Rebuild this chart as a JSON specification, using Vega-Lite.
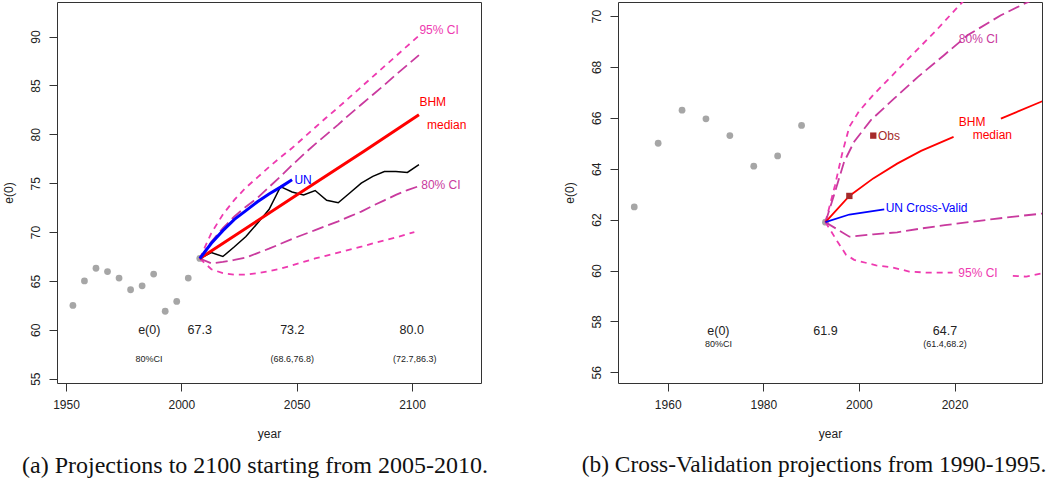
{
  "$schema": "https://vega.github.io/schema/vega-lite/v6.json",
  "padding": {"left": 1, "top": 1, "right": 0, "bottom": 0},
  "background": "white",
  "config": {
    "view": {"stroke": "#333", "strokeWidth": 1},
    "axis": {"domain": false, "grid": false, "tickColor": "#333", "tickSize": 8, "labelFont": "Liberation Sans", "labelFontSize": 12, "labelColor": "#222", "titleFont": "Liberation Sans", "titleFontSize": 12, "titleFontWeight": "normal", "titleColor": "#222"},
    "axisY": {"labelAngle": -90, "labelAlign": "center", "labelBaseline": "bottom", "labelPadding": 7, "titlePadding": 14},
    "axisX": {"labelPadding": 8, "titlePadding": 18},
    "text": {"font": "Liberation Sans"}
  },
  "datasets": {
    "dots": [
      {"year": 1953, "e0": 62.5}, {"year": 1958, "e0": 65.0}, {"year": 1963, "e0": 66.3}, {"year": 1968, "e0": 65.96},
      {"year": 1973, "e0": 65.3}, {"year": 1978, "e0": 64.1}, {"year": 1983, "e0": 64.5}, {"year": 1988, "e0": 65.7},
      {"year": 1993, "e0": 61.9}, {"year": 1998, "e0": 62.9}, {"year": 2003, "e0": 65.3}, {"year": 2008, "e0": 67.3}
    ],
    "linesA": [
      {"series": "up95", "year": 2008, "e0": 67.3}, {"series": "up95", "year": 2013, "e0": 69.9}, {"series": "up95", "year": 2018, "e0": 71.8}, {"series": "up95", "year": 2023, "e0": 73.3}, {"series": "up95", "year": 2028, "e0": 74.55}, {"series": "up95", "year": 2033, "e0": 75.6}, {"series": "up95", "year": 2038, "e0": 76.65}, {"series": "up95", "year": 2043, "e0": 77.65}, {"series": "up95", "year": 2048, "e0": 78.6}, {"series": "up95", "year": 2053, "e0": 79.65}, {"series": "up95", "year": 2058, "e0": 80.7}, {"series": "up95", "year": 2063, "e0": 81.75}, {"series": "up95", "year": 2068, "e0": 82.75}, {"series": "up95", "year": 2073, "e0": 83.8}, {"series": "up95", "year": 2078, "e0": 84.85}, {"series": "up95", "year": 2083, "e0": 85.9}, {"series": "up95", "year": 2088, "e0": 86.95}, {"series": "up95", "year": 2093, "e0": 88.0}, {"series": "up95", "year": 2098, "e0": 89.05}, {"series": "up95", "year": 2103, "e0": 90.1},
      {"series": "up80", "year": 2008, "e0": 67.3}, {"series": "up80", "year": 2013, "e0": 69.0}, {"series": "up80", "year": 2018, "e0": 70.4}, {"series": "up80", "year": 2023, "e0": 71.6}, {"series": "up80", "year": 2028, "e0": 72.6}, {"series": "up80", "year": 2033, "e0": 73.5}, {"series": "up80", "year": 2038, "e0": 74.6}, {"series": "up80", "year": 2043, "e0": 75.7}, {"series": "up80", "year": 2048, "e0": 76.85}, {"series": "up80", "year": 2053, "e0": 77.95}, {"series": "up80", "year": 2058, "e0": 79.0}, {"series": "up80", "year": 2063, "e0": 80.0}, {"series": "up80", "year": 2068, "e0": 81.0}, {"series": "up80", "year": 2073, "e0": 82.05}, {"series": "up80", "year": 2078, "e0": 83.05}, {"series": "up80", "year": 2083, "e0": 84.05}, {"series": "up80", "year": 2088, "e0": 85.05}, {"series": "up80", "year": 2093, "e0": 86.1}, {"series": "up80", "year": 2098, "e0": 87.1}, {"series": "up80", "year": 2103, "e0": 88.1},
      {"series": "lo80", "year": 2008, "e0": 67.3}, {"series": "lo80", "year": 2013, "e0": 66.8}, {"series": "lo80", "year": 2018, "e0": 66.95}, {"series": "lo80", "year": 2023, "e0": 67.15}, {"series": "lo80", "year": 2028, "e0": 67.4}, {"series": "lo80", "year": 2033, "e0": 67.85}, {"series": "lo80", "year": 2038, "e0": 68.3}, {"series": "lo80", "year": 2043, "e0": 68.8}, {"series": "lo80", "year": 2048, "e0": 69.3}, {"series": "lo80", "year": 2053, "e0": 69.75}, {"series": "lo80", "year": 2058, "e0": 70.2}, {"series": "lo80", "year": 2063, "e0": 70.65}, {"series": "lo80", "year": 2068, "e0": 71.1}, {"series": "lo80", "year": 2073, "e0": 71.6}, {"series": "lo80", "year": 2078, "e0": 72.1}, {"series": "lo80", "year": 2083, "e0": 72.7}, {"series": "lo80", "year": 2088, "e0": 73.25}, {"series": "lo80", "year": 2093, "e0": 73.8}, {"series": "lo80", "year": 2098, "e0": 74.3}, {"series": "lo80", "year": 2103, "e0": 74.7},
      {"series": "lo95", "year": 2008, "e0": 67.3}, {"series": "lo95", "year": 2013, "e0": 66.2}, {"series": "lo95", "year": 2018, "e0": 65.8}, {"series": "lo95", "year": 2023, "e0": 65.65}, {"series": "lo95", "year": 2028, "e0": 65.65}, {"series": "lo95", "year": 2033, "e0": 65.8}, {"series": "lo95", "year": 2038, "e0": 66.0}, {"series": "lo95", "year": 2043, "e0": 66.25}, {"series": "lo95", "year": 2048, "e0": 66.6}, {"series": "lo95", "year": 2053, "e0": 66.95}, {"series": "lo95", "year": 2058, "e0": 67.3}, {"series": "lo95", "year": 2063, "e0": 67.6}, {"series": "lo95", "year": 2068, "e0": 67.9}, {"series": "lo95", "year": 2073, "e0": 68.2}, {"series": "lo95", "year": 2078, "e0": 68.5}, {"series": "lo95", "year": 2083, "e0": 68.85}, {"series": "lo95", "year": 2088, "e0": 69.15}, {"series": "lo95", "year": 2093, "e0": 69.45}, {"series": "lo95", "year": 2098, "e0": 69.8}, {"series": "lo95", "year": 2101, "e0": 70.0},
      {"series": "traj", "year": 2008, "e0": 67.3}, {"series": "traj", "year": 2013, "e0": 67.9}, {"series": "traj", "year": 2018, "e0": 67.5}, {"series": "traj", "year": 2023, "e0": 68.5}, {"series": "traj", "year": 2028, "e0": 69.55}, {"series": "traj", "year": 2033, "e0": 70.9}, {"series": "traj", "year": 2038, "e0": 72.3}, {"series": "traj", "year": 2043, "e0": 74.65}, {"series": "traj", "year": 2048, "e0": 74.1}, {"series": "traj", "year": 2053, "e0": 73.8}, {"series": "traj", "year": 2058, "e0": 74.25}, {"series": "traj", "year": 2063, "e0": 73.25}, {"series": "traj", "year": 2068, "e0": 73.0}, {"series": "traj", "year": 2073, "e0": 74.0}, {"series": "traj", "year": 2078, "e0": 75.0}, {"series": "traj", "year": 2083, "e0": 75.7}, {"series": "traj", "year": 2088, "e0": 76.2}, {"series": "traj", "year": 2093, "e0": 76.2}, {"series": "traj", "year": 2098, "e0": 76.1}, {"series": "traj", "year": 2103, "e0": 76.9},
      {"series": "bhm", "year": 2008, "e0": 67.3}, {"series": "bhm", "year": 2052, "e0": 74.1}, {"series": "bhm", "year": 2079, "e0": 78.25}, {"series": "bhm", "year": 2103, "e0": 82.0},
      {"series": "un", "year": 2008, "e0": 67.3}, {"series": "un", "year": 2013, "e0": 68.85}, {"series": "un", "year": 2018, "e0": 70.15}, {"series": "un", "year": 2023, "e0": 71.3}, {"series": "un", "year": 2028, "e0": 72.2}, {"series": "un", "year": 2033, "e0": 73.1}, {"series": "un", "year": 2038, "e0": 73.9}, {"series": "un", "year": 2043, "e0": 74.6}, {"series": "un", "year": 2048, "e0": 75.35}
    ],
    "linesB": [
      {"series": "up95", "year": 1993, "e0": 61.9}, {"series": "up95", "year": 1995, "e0": 63.35}, {"series": "up95", "year": 1996.5, "e0": 64.6}, {"series": "up95", "year": 1998, "e0": 65.65}, {"series": "up95", "year": 2000, "e0": 66.25}, {"series": "up95", "year": 2003, "e0": 66.9}, {"series": "up95", "year": 2007, "e0": 67.67}, {"series": "up95", "year": 2011, "e0": 68.45}, {"series": "up95", "year": 2016, "e0": 69.4}, {"series": "up95", "year": 2021, "e0": 70.42}, {"series": "up95", "year": 2026, "e0": 71.4},
      {"series": "up80", "year": 1993, "e0": 61.9}, {"series": "up80", "year": 1994.8, "e0": 62.97}, {"series": "up80", "year": 1996.9, "e0": 64.27}, {"series": "up80", "year": 1999, "e0": 65.06}, {"series": "up80", "year": 2002.5, "e0": 65.91}, {"series": "up80", "year": 2007.4, "e0": 66.76}, {"series": "up80", "year": 2012.3, "e0": 67.6}, {"series": "up80", "year": 2017.8, "e0": 68.46}, {"series": "up80", "year": 2022.7, "e0": 69.24}, {"series": "up80", "year": 2029.7, "e0": 70.03}, {"series": "up80", "year": 2034.6, "e0": 70.48}, {"series": "up80", "year": 2039, "e0": 70.85},
      {"series": "lo80", "year": 1993, "e0": 61.9}, {"series": "lo80", "year": 1998, "e0": 61.33}, {"series": "lo80", "year": 2003, "e0": 61.42}, {"series": "lo80", "year": 2008, "e0": 61.5}, {"series": "lo80", "year": 2013, "e0": 61.65}, {"series": "lo80", "year": 2018, "e0": 61.78}, {"series": "lo80", "year": 2023, "e0": 61.9}, {"series": "lo80", "year": 2028, "e0": 62.02}, {"series": "lo80", "year": 2033, "e0": 62.13}, {"series": "lo80", "year": 2038, "e0": 62.23}, {"series": "lo80", "year": 2040, "e0": 62.27},
      {"series": "lo95a", "year": 1993, "e0": 61.9}, {"series": "lo95a", "year": 1995.5, "e0": 61.14}, {"series": "lo95a", "year": 1997.3, "e0": 60.62}, {"series": "lo95a", "year": 1999, "e0": 60.42}, {"series": "lo95a", "year": 2003.6, "e0": 60.2}, {"series": "lo95a", "year": 2007, "e0": 60.12}, {"series": "lo95a", "year": 2010.5, "e0": 59.96}, {"series": "lo95a", "year": 2014, "e0": 59.92}, {"series": "lo95a", "year": 2019.6, "e0": 59.92},
      {"series": "lo95b", "year": 2032.2, "e0": 59.79}, {"series": "lo95b", "year": 2035, "e0": 59.76}, {"series": "lo95b", "year": 2039, "e0": 59.92},
      {"series": "bhm_a", "year": 1993, "e0": 61.9}, {"series": "bhm_a", "year": 1998, "e0": 62.93}, {"series": "bhm_a", "year": 2003, "e0": 63.62}, {"series": "bhm_a", "year": 2008, "e0": 64.2}, {"series": "bhm_a", "year": 2013, "e0": 64.7}, {"series": "bhm_a", "year": 2019.8, "e0": 65.25},
      {"series": "bhm_b", "year": 2029.7, "e0": 65.97}, {"series": "bhm_b", "year": 2039, "e0": 66.7},
      {"series": "un", "year": 1993, "e0": 61.9}, {"series": "un", "year": 1998, "e0": 62.2}, {"series": "un", "year": 2005.3, "e0": 62.4}
    ],
    "obsB": [{"year": 1998, "e0": 62.93}, {"year": 2003, "e0": 65.3}],
    "labelsA": [
      {"year": 2103.2, "e0": 90.65, "text": "95% CI", "kind": "ci95"},
      {"year": 2103.2, "e0": 83.34, "text": "BHM", "kind": "bhm"},
      {"year": 2106.5, "e0": 80.96, "text": "median", "kind": "bhm"},
      {"year": 2104, "e0": 74.84, "text": "80% CI", "kind": "ci80"},
      {"year": 2049, "e0": 75.35, "text": "UN", "kind": "un"}
    ],
    "labelsB": [
      {"year": 2020.9, "e0": 69.09, "text": "80% CI", "kind": "ci80"},
      {"year": 2020.9, "e0": 65.82, "text": "BHM", "kind": "bhm"},
      {"year": 2023.8, "e0": 65.32, "text": "median", "kind": "bhm"},
      {"year": 2020.8, "e0": 59.9, "text": "95% CI", "kind": "ci95"},
      {"year": 2004.0, "e0": 65.3, "text": "Obs", "kind": "obs"},
      {"year": 2005.6, "e0": 62.44, "text": "UN Cross-Valid", "kind": "un"}
    ],
    "tableA": [
      {"year": 1986.1, "e0": 59.94, "text": "e(0)", "row": "main"},
      {"year": 2008.0, "e0": 59.94, "text": "67.3", "row": "main"},
      {"year": 2048.1, "e0": 59.94, "text": "73.2", "row": "main"},
      {"year": 2099.9, "e0": 59.94, "text": "80.0", "row": "main"},
      {"year": 1986.0, "e0": 56.98, "text": "80%CI", "row": "ci"},
      {"year": 2048.1, "e0": 56.98, "text": "(68.6,76.8)", "row": "ci"},
      {"year": 2101.2, "e0": 56.98, "text": "(72.7,86.3)", "row": "ci"}
    ],
    "tableB": [
      {"year": 1970.6, "e0": 57.64, "text": "e(0)", "row": "main"},
      {"year": 1993.0, "e0": 57.64, "text": "61.9", "row": "main"},
      {"year": 2018.0, "e0": 57.64, "text": "64.7", "row": "main"},
      {"year": 1970.6, "e0": 57.11, "text": "80%CI", "row": "ci"},
      {"year": 2018.0, "e0": 57.11, "text": "(61.4,68.2)", "row": "ci"}
    ]
  },
  "spacing": 137,
  "bounds": "flush",
  "hconcat": [
    {
      "width": 424,
      "height": 381,
      "title": {"text": "(a) Projections to 2100 starting from 2005-2010.", "orient": "bottom", "font": "Liberation Serif", "fontSize": 24, "fontWeight": "normal", "color": "#111", "anchor": "middle", "frame": "group", "dx": -14, "offset": 15},
      "encoding": {
        "x": {"field": "year", "type": "quantitative", "scale": {"domain": [1946.1, 2129.9], "nice": false, "zero": false}, "axis": {"values": [1950, 2000, 2050, 2100], "format": "d", "title": "year"}},
        "y": {"field": "e0", "type": "quantitative", "scale": {"domain": [54.56, 93.54], "nice": false, "zero": false}, "axis": {"values": [55, 60, 65, 70, 75, 80, 85, 90], "format": "d", "title": "e(0)"}}
      },
      "layer": [
        {"data": {"name": "dots"}, "mark": {"type": "circle", "color": "#A6A6A6", "size": 46, "opacity": 1}},
        {"data": {"name": "linesA"}, "transform": [{"filter": {"field": "series", "oneOf": ["up95", "lo95"]}}], "mark": {"type": "line", "color": "#EE3AB0", "strokeWidth": 1.8, "strokeDash": [6, 5]}, "encoding": {"detail": {"field": "series"}}},
        {"data": {"name": "linesA"}, "transform": [{"filter": {"field": "series", "oneOf": ["up80", "lo80"]}}], "mark": {"type": "line", "color": "#C93A9E", "strokeWidth": 1.8, "strokeDash": [12, 5]}, "encoding": {"detail": {"field": "series"}}},
        {"data": {"name": "linesA"}, "transform": [{"filter": {"field": "series", "equal": "traj"}}], "mark": {"type": "line", "color": "#000000", "strokeWidth": 1.5}},
        {"data": {"name": "linesA"}, "transform": [{"filter": {"field": "series", "equal": "bhm"}}], "mark": {"type": "line", "color": "#FF0000", "strokeWidth": 3}},
        {"data": {"name": "linesA"}, "transform": [{"filter": {"field": "series", "equal": "un"}}], "mark": {"type": "line", "color": "#0000FF", "strokeWidth": 3}},
        {"data": {"name": "labelsA"}, "mark": {"type": "text", "align": "left", "baseline": "middle", "fontSize": 12}, "encoding": {"text": {"field": "text"}, "color": {"field": "kind", "type": "nominal", "scale": {"domain": ["ci95", "ci80", "bhm", "un", "obs"], "range": ["#EE3AB0", "#C93A9E", "#FF0000", "#0000FF", "#A52A2A"]}, "legend": null}}},
        {"data": {"name": "tableA"}, "mark": {"type": "text", "align": "center", "baseline": "middle", "color": "#222"}, "encoding": {"text": {"field": "text"}, "size": {"field": "row", "type": "nominal", "scale": {"domain": ["main", "ci"], "range": [12.5, 9]}, "legend": null}}}
      ]
    },
    {
      "width": 424,
      "height": 381,
      "title": {"text": "(b) Cross-Validation projections from 1990-1995.", "orient": "bottom", "font": "Liberation Serif", "fontSize": 23.4, "fontWeight": "normal", "color": "#111", "anchor": "middle", "frame": "group", "dx": -16, "offset": 15},
      "encoding": {
        "x": {"field": "year", "type": "quantitative", "scale": {"domain": [1949.6, 2038.3], "nice": false, "zero": false}, "axis": {"values": [1960, 1980, 2000, 2020], "format": "d", "title": "year"}},
        "y": {"field": "e0", "type": "quantitative", "scale": {"domain": [55.58, 70.55], "nice": false, "zero": false}, "axis": {"values": [56, 58, 60, 62, 64, 66, 68, 70], "format": "d", "title": "e(0)"}}
      },
      "layer": [
        {"data": {"name": "dots"}, "transform": [{"filter": "datum.year <= 1993"}], "mark": {"type": "circle", "color": "#A6A6A6", "size": 46, "opacity": 1}},
        {"data": {"name": "linesB"}, "transform": [{"filter": {"field": "series", "oneOf": ["up95", "lo95a", "lo95b"]}}], "mark": {"type": "line", "color": "#EE3AB0", "strokeWidth": 1.8, "strokeDash": [6, 5], "clip": true}, "encoding": {"detail": {"field": "series"}}},
        {"data": {"name": "linesB"}, "transform": [{"filter": {"field": "series", "oneOf": ["up80", "lo80"]}}], "mark": {"type": "line", "color": "#C93A9E", "strokeWidth": 1.8, "strokeDash": [12, 5], "clip": true}, "encoding": {"detail": {"field": "series"}}},
        {"data": {"name": "linesB"}, "transform": [{"filter": {"field": "series", "oneOf": ["bhm_a", "bhm_b"]}}], "mark": {"type": "line", "color": "#FF0000", "strokeWidth": 1.8, "clip": true}, "encoding": {"detail": {"field": "series"}}},
        {"data": {"name": "linesB"}, "transform": [{"filter": {"field": "series", "equal": "un"}}], "mark": {"type": "line", "color": "#0000FF", "strokeWidth": 1.8}},
        {"data": {"name": "obsB"}, "mark": {"type": "square", "color": "#A52A2A", "size": 40, "opacity": 1, "filled": true}},
        {"data": {"name": "labelsB"}, "mark": {"type": "text", "align": "left", "baseline": "middle", "fontSize": 12}, "encoding": {"text": {"field": "text"}, "color": {"field": "kind", "type": "nominal", "scale": {"domain": ["ci95", "ci80", "bhm", "un", "obs"], "range": ["#EE3AB0", "#C93A9E", "#FF0000", "#0000FF", "#A52A2A"]}, "legend": null}}},
        {"data": {"name": "tableB"}, "mark": {"type": "text", "align": "center", "baseline": "middle", "color": "#222"}, "encoding": {"text": {"field": "text"}, "size": {"field": "row", "type": "nominal", "scale": {"domain": ["main", "ci"], "range": [12.5, 9]}, "legend": null}}}
      ]
    }
  ]
}
